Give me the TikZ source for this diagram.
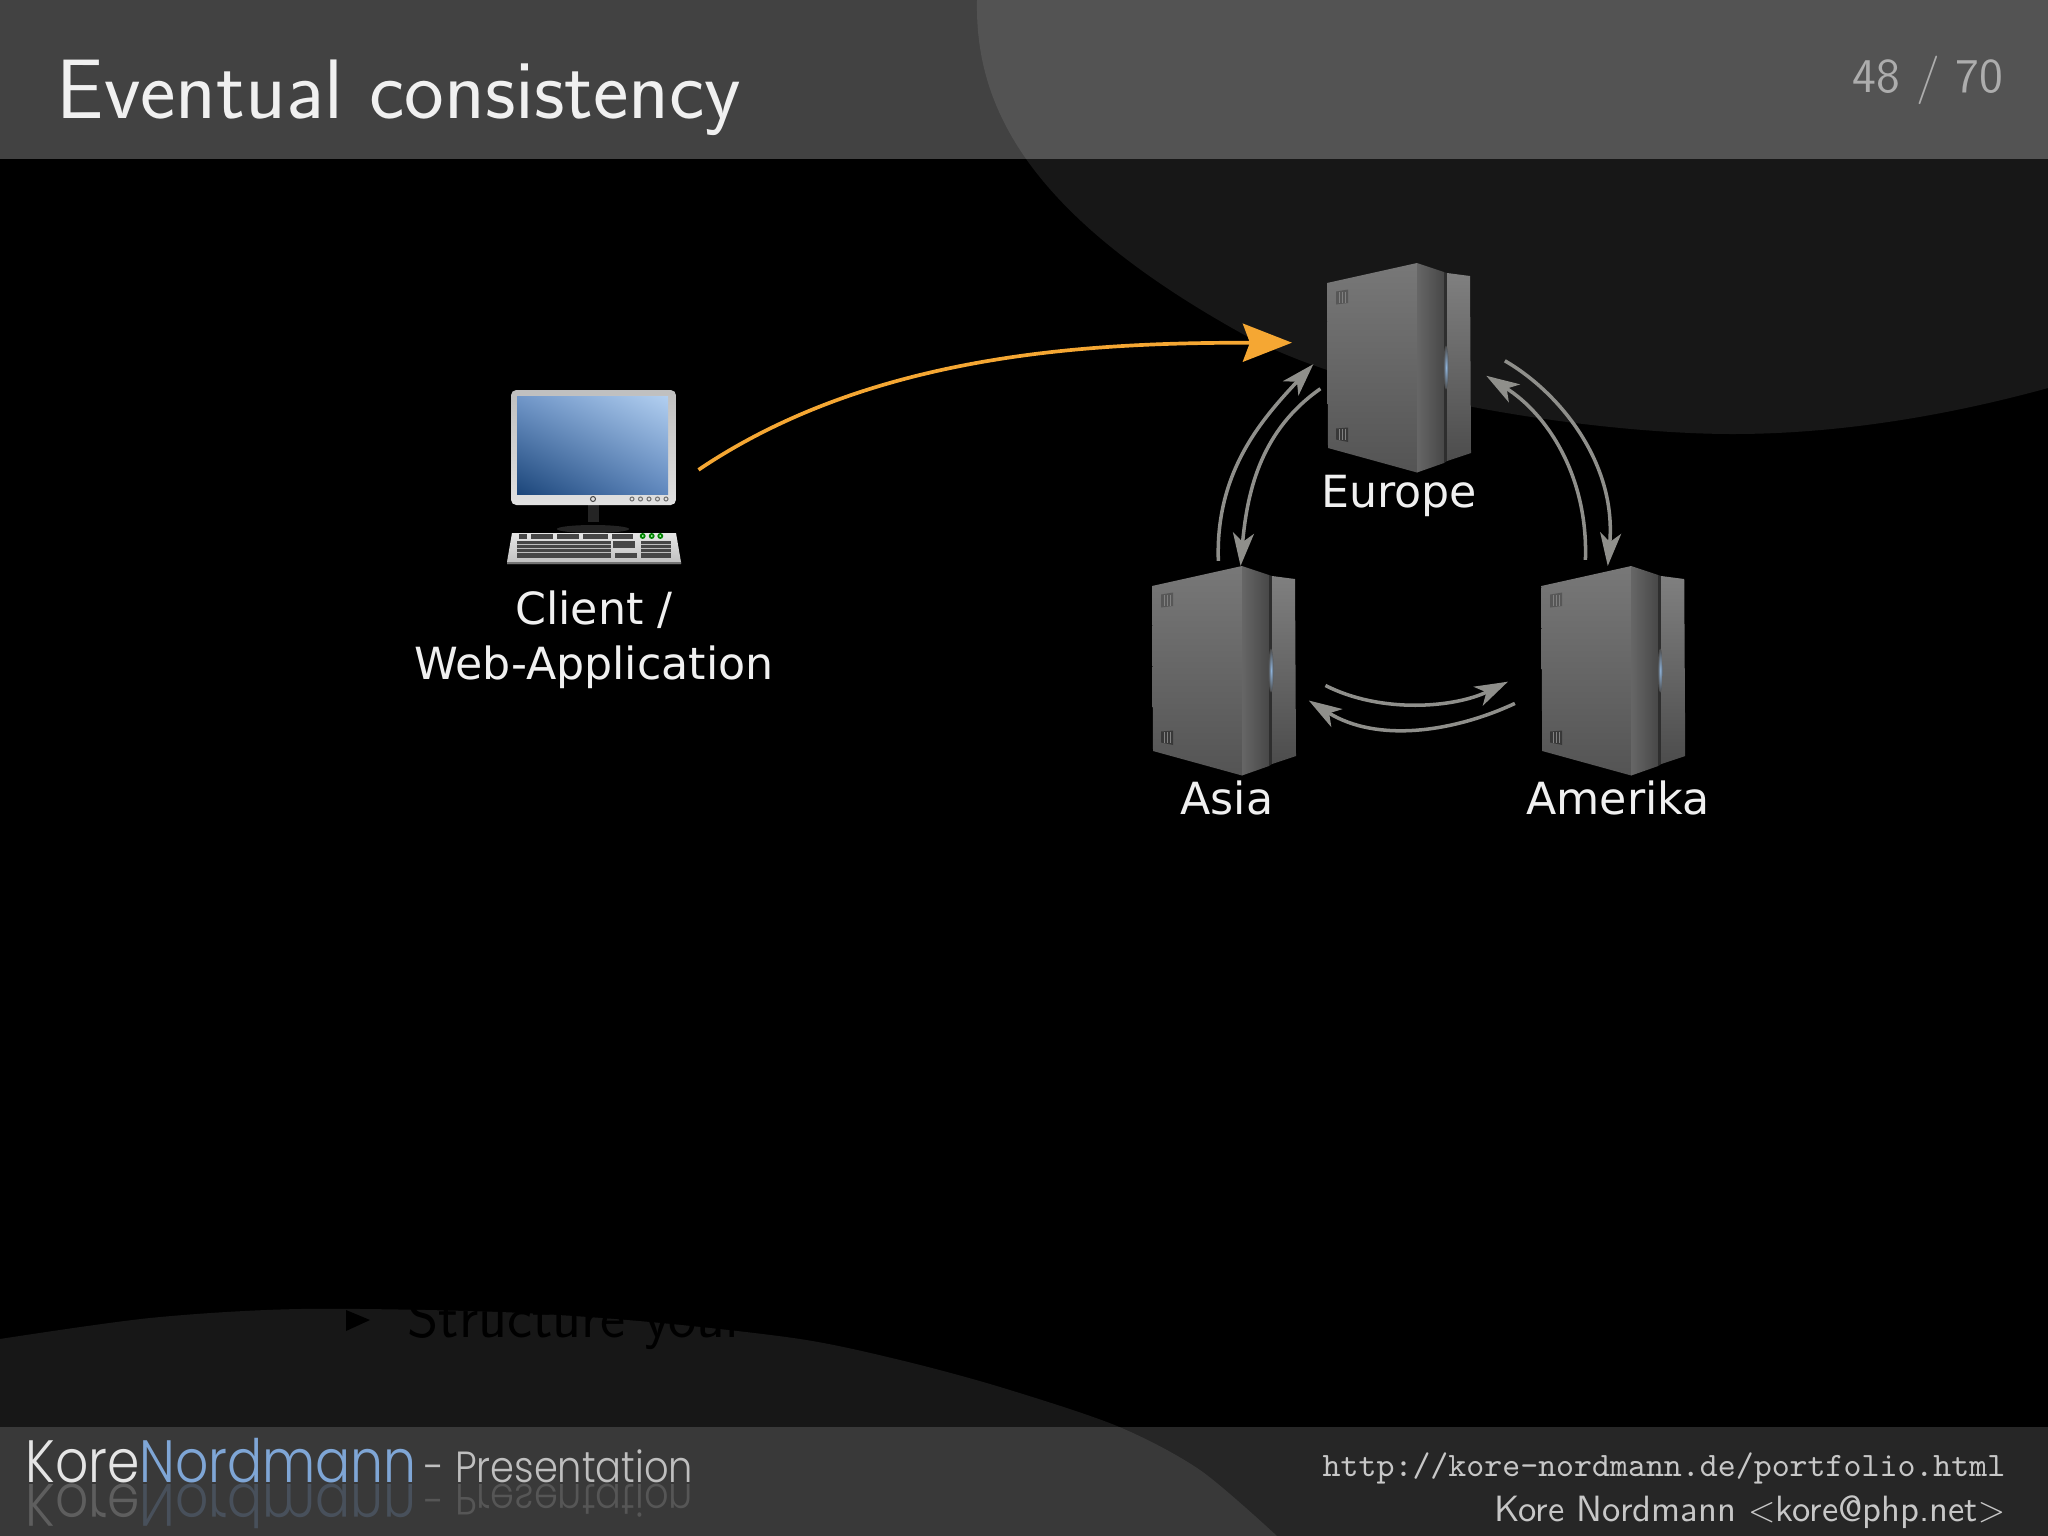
\documentclass[tikz,border=0pt]{standalone}
\usepackage{fontspec}
\usetikzlibrary{arrows.meta, shadings}
\newfontfamily\dejavu{DejaVu Sans}
\newfontfamily\logofont{Poppins Light}

\definecolor{syncgray}{HTML}{8F8F8B}
\definecolor{pushorange}{HTML}{F5A733}
\definecolor{logoblue}{HTML}{7FA6D6}
\definecolor{glowblue}{HTML}{8FB4DC}
\definecolor{screenul}{HTML}{7096C8}
\definecolor{screenur}{HTML}{B2CFF0}
\definecolor{screenll}{HTML}{1C467A}
\definecolor{screenlr}{HTML}{6088BE}

\tikzstyle{srvbox} = [rectangle, minimum width = 1.44cm, minimum height = 2.09cm, inner sep = 0pt, outer sep = 0pt]
\tikzstyle{clientbox} = [rectangle, minimum width = 1.74cm, minimum height = 1.74cm, inner sep = 0pt, outer sep = 0pt]
\tikzstyle{srvlabel} = [anchor = base, inner sep = 0pt, text = white!94!black, font = \dejavu\fontsize{12.6}{15.6}\selectfont]
\tikzstyle{footlabel} = [anchor = base east, inner sep = 0pt, text = white!78!black]
\tikzstyle{logotext} = [anchor = base west, inner sep = 0pt, xscale = 0.87, transform shape, font = \logofont\fontsize{17}{20}\selectfont]
\tikzstyle{subtext} = [anchor = base west, inner sep = 0pt, xscale = 0.88, transform shape, text = white!75!black, font = \logofont\fontsize{12.4}{15}\selectfont]
\tikzstyle{syncarrow} = [color = syncgray, line width = 1pt, -{Stealth[length = 0.33cm, width = 0.21cm, inset = 0.09cm]}]
\tikzstyle{pusharrow} = [color = pushorange, line width = 1.05pt, -{Stealth[length = 0.49cm, width = 0.38cm, inset = 0.07cm]}]
\tikzstyle{darkkeys} = [fill = black!72]

\tikzset{
	serverpic/.pic = {
		\shade[top color = black!53, bottom color = black!67] (-72,84.5) -- (18,104.5) -- (18,-105) -- (-71,-80.5) -- cycle;
		\shade[left color = black!60, right color = black!72] (18,104.5) -- (45,95.5) -- (45,-95.5) -- (18,-105) -- cycle;
		\fill[black!82] (45,95.5) -- (48,94.5) -- (48,-93.5) -- (45,-95.5) -- cycle;
		\shade[top color = black!50, bottom color = black!70] (48,94.5) -- (71,91.5) -- (72,-85.5) -- (48,-93.5) -- cycle;
		\shade[inner color = glowblue, outer color = black!70] (47,0) ellipse (2.6 and 22);
		\fill[black!66] (-63,76) -- (-51,78) -- (-51,64.5) -- (-63,63) -- cycle;
		\fill[black!78] (-63,-61) -- (-51,-60) -- (-51,-74.5) -- (-63,-72) -- cycle;
		\foreach \ventx in {-60,-57,-54}
			\draw[black!50, line width = 0.25pt] (\ventx,76) -- (\ventx,64.5) (\ventx,-61) -- (\ventx,-72);
	},
	clientpic/.pic = {
		\fill[black!86] (-6,-28) rectangle (5,-45);
		\fill[black!86] (-1,-52) ellipse (36 and 4);
		\shade[rounded corners = 1.5pt, top color = black!25, bottom color = black!12] (-83,87) rectangle (82,-28);
		\shade[upper left = screenul, upper right = screenur, lower left = screenll, lower right = screenlr] (-77,81) rectangle (74,-17);
		\draw[black!70, line width = 0.3pt] (-1,-22) circle (2.5);
		\foreach \btnx in {38,46.5,55,63.5,72}
			\draw[black!55, line width = 0.3pt] (\btnx,-22) circle (2);
		\shade[top color = black!10, bottom color = black!25] (-82,-56) -- (82,-56) -- (87,-85) -- (87,-87) -- (-87,-87) -- (-87,-85) -- cycle;
		\fill[black!55] (-87,-85) rectangle (87,-87);
		\foreach \keyl/\keyr in {-74.7/-66.7, -63/-40.7, -36.7/-14.7, -10.7/14.3, 18/39.3}
			\fill[darkkeys] (\keyl,-57.3) rectangle (\keyr,-62);
		\fill[darkkeys] (-77.3,-63.7) rectangle (16.7,-81.3);
		\fill[darkkeys] (19.3,-64) rectangle (41,-71.3);
		\fill[darkkeys] (21,-76.3) rectangle (42.7,-81.3);
		\fill[darkkeys] (46.7,-63.7) rectangle (76.7,-80.7);
		\foreach \rowy in {-67.5,-71.5,-75.5}
			\draw[black!25, line width = 0.3pt] (-77,\rowy) -- (16.7,\rowy) (46.7,\rowy) -- (76.7,\rowy);
		\foreach \ledx in {48.7,57.7,66.3}
			\draw[green!50!black, line width = 0.5pt, fill = white!70!green] (\ledx,-59) circle (2);
	}
}

\begin{document}
\begin{tikzpicture}[x = 0.01cm, y = 0.01cm]
	\useasboundingbox (0,0) rectangle (2048,-1536);
	\fill[black] (0,0) rectangle (2048,-1536);
	\fill[black!74] (0,0) rectangle (2048,-159);
	\fill[black!85] (0,-1427) rectangle (2048,-1536);
	\fill[white, opacity = 0.09] (977,0) .. controls (975,-100) and (1020,-210) .. (1241,-333) .. controls (1360,-400) and (1600,-434) .. (1733,-434) .. controls (1840,-434) and (1950,-415) .. (2048,-388) -- (2048,0) -- cycle;
	\fill[white, opacity = 0.09] plot[smooth] coordinates {(0,-1339) (150,-1318) (300,-1309) (500,-1312) (650,-1322) (800,-1339) (900,-1360) (1000,-1387) (1117,-1426) (1200,-1470) (1277,-1536)} -- (0,-1536) -- cycle;

	\node[anchor = base west, inner sep = 0pt, text = white!94!black, font = \sffamily\fontsize{24}{28}\selectfont] (title) at (56,-118) {Eventual consistency};
	\node[anchor = base east, inner sep = 0pt, text = white!68!black, font = \sffamily\fontsize{13.8}{17}\selectfont] (pagenum) at (2004,-92) {48 / 70};

	\fill[black] (346,-1310) -- (370,-1320) -- (346,-1331) -- cycle;
	\node[anchor = base west, inner sep = 0pt, text = black, font = \sffamily\fontsize{17}{20}\selectfont] (bullet) at (407,-1337) {Structure your};

	\node[logotext] (logo) at (25,-1482) {\textcolor{white!90!black}{Kore}\textcolor{logoblue}{Nordmann}};
	\node[subtext] (subtitle) at (424,-1482) {- Presentation};
	\node[logotext, yscale = -1, opacity = 0.22] (logorefl) at (25,-1484) {\textcolor{white!90!black}{Kore}\textcolor{logoblue}{Nordmann}};
	\node[subtext, yscale = -1, opacity = 0.22] (subrefl) at (424,-1484) {- Presentation};
	\node[footlabel, font = \ttfamily\fontsize{9.73}{12}\selectfont] (url) at (2006,-1476) {http://kore-nordmann.de/portfolio.html};
	\node[footlabel, font = \sffamily\fontsize{10.4}{12}\selectfont] (mail) at (2006,-1521) {Kore Nordmann $<$kore@php.net$>$};

	\node[clientbox] (client) at (594,-477) {};
	\node[srvbox] (europe) at (1399,-367.5) {};
	\node[srvbox] (asia) at (1224,-670.5) {};
	\node[srvbox, right of = asia, node distance = 3.89cm] (amerika) {};
	\pic at (client) {clientpic};
	\pic at (europe) {serverpic};
	\pic at (asia) {serverpic};
	\pic at (amerika) {serverpic};

	\node[srvlabel, align = center, anchor = center] (clientlabel) at (594,-640) {Client /\\Web-Application};
	\node[srvlabel] (europelabel) at (1399,-507) {Europe};
	\node[srvlabel] (asialabel) at (1227,-814) {Asia};
	\node[srvlabel] (amerikalabel) at (1618,-814) {Amerika};

	\path
	(client.-3) edge[pusharrow, out = 34, in = 180, looseness = 0.9, shorten < = 0.21cm, shorten > = 0.35cm] (europe.161)
	(asia.93) edge[syncarrow, out = 92, in = 227, shorten < = 0.05cm, shorten > = 0.2cm] (europe.166)
	(europe.193) edge[syncarrow, out = 215, in = 85, shorten < = 0.08cm] (asia.81)
	(europe.20) edge[syncarrow, out = -30, in = 85, shorten < = 0.39cm] (amerika.93)
	(amerika.105) edge[syncarrow, out = 88, in = -32, shorten < = 0.06cm, shorten > = 0.18cm] (europe.1)
	(asia.0) edge[syncarrow, out = -27, in = 206, shorten < = 0.33cm, shorten > = 0.37cm] (amerika.176)
	(amerika.196) edge[syncarrow, out = 205, in = -32, shorten < = 0.29cm, shorten > = 0.15cm] (asia.343);
\end{tikzpicture}
\end{document}
